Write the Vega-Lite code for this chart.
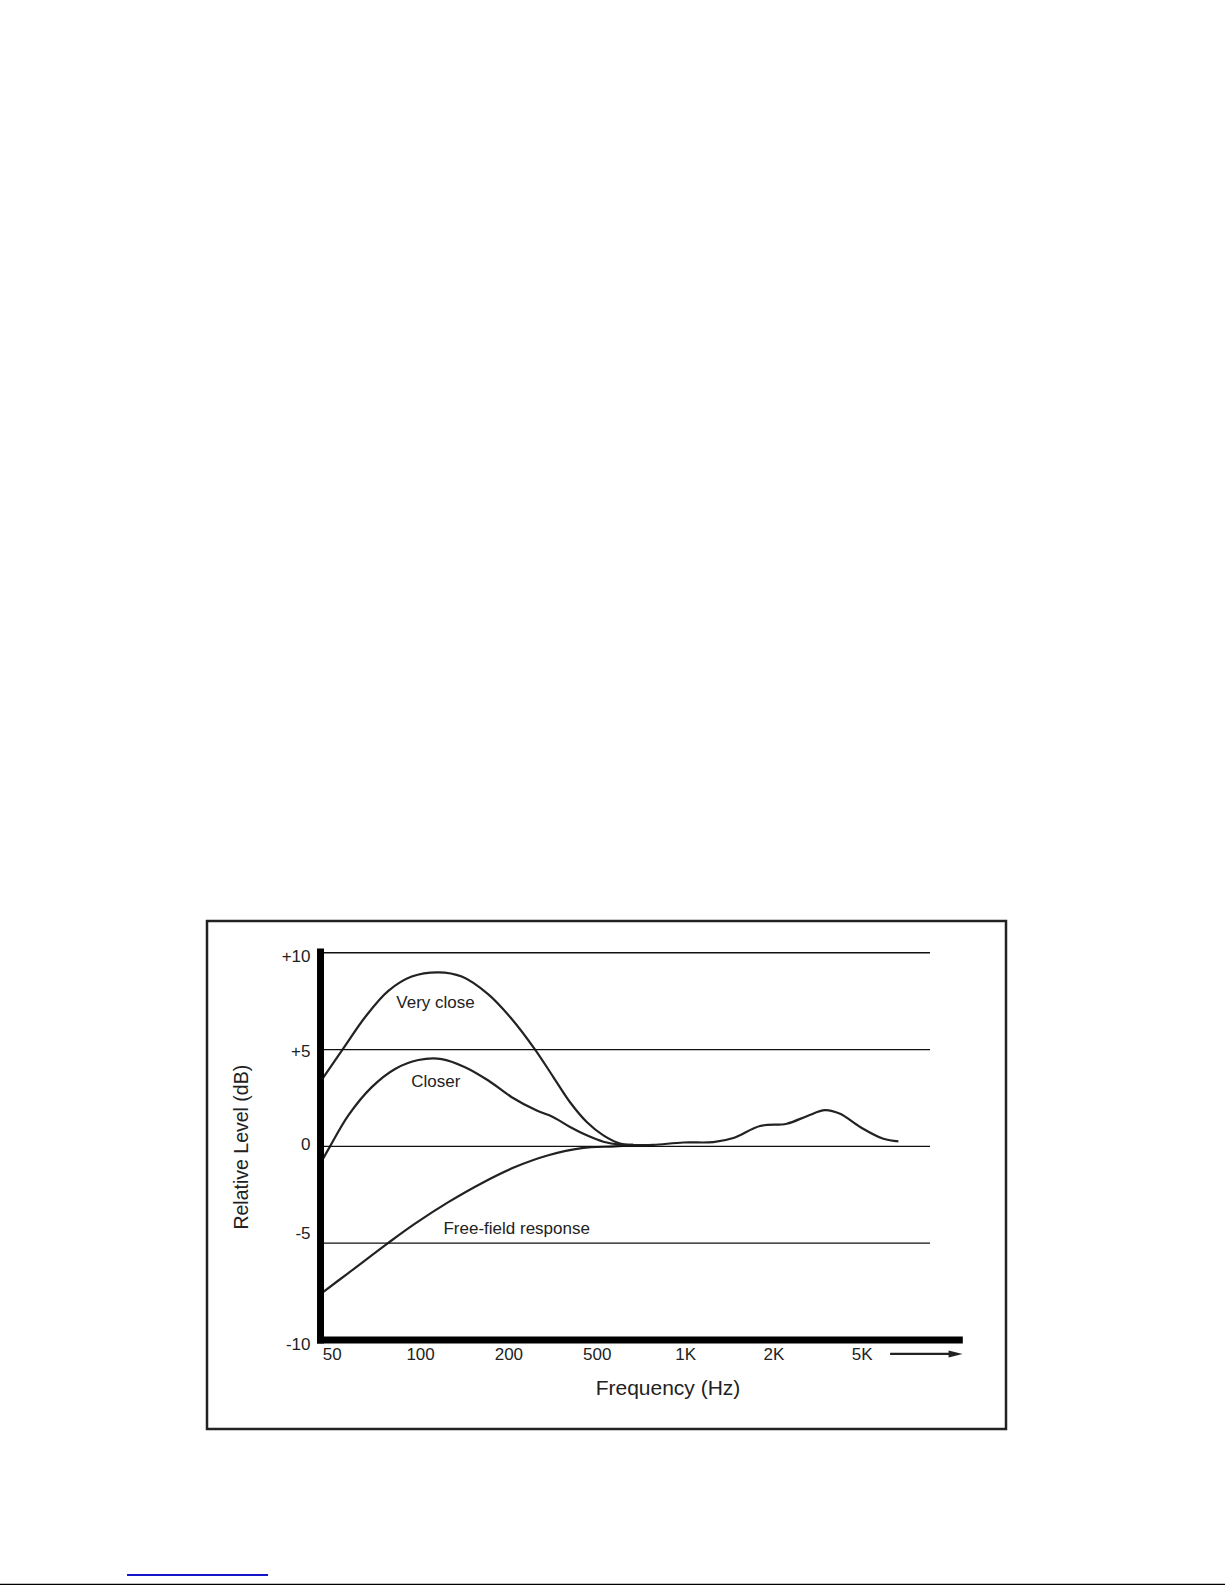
{
  "$schema": "https://vega.github.io/schema/vega-lite/v6.json",
  "width": 799,
  "height": 508,
  "autosize": {"type": "none"},
  "padding": {"left": 207, "top": 921, "right": 219, "bottom": 156},
  "background": "white",
  "config": {"view": {"stroke": "#222", "strokeWidth": 2.5}, "font": "Liberation Sans"},
  "datasets": {
    "curves": [
      {"series": "Very close", "x": -0.106, "db": 3.49},
      {"series": "Very close", "x": 0.151, "db": 5.19},
      {"series": "Very close", "x": 0.377, "db": 6.67},
      {"series": "Very close", "x": 0.641, "db": 8.03},
      {"series": "Very close", "x": 0.906, "db": 8.77},
      {"series": "Very close", "x": 1.207, "db": 8.99},
      {"series": "Very close", "x": 1.472, "db": 8.77},
      {"series": "Very close", "x": 1.773, "db": 7.85},
      {"series": "Very close", "x": 2.038, "db": 6.58},
      {"series": "Very close", "x": 2.302, "db": 5.0},
      {"series": "Very close", "x": 2.509, "db": 3.58},
      {"series": "Very close", "x": 2.698, "db": 2.28},
      {"series": "Very close", "x": 2.887, "db": 1.26},
      {"series": "Very close", "x": 3.075, "db": 0.57},
      {"series": "Very close", "x": 3.264, "db": 0.15},
      {"series": "Very close", "x": 3.414, "db": 0.08},
      {"series": "Closer", "x": -0.106, "db": -0.7},
      {"series": "Closer", "x": -0.019, "db": 0.0},
      {"series": "Closer", "x": 0.188, "db": 1.6},
      {"series": "Closer", "x": 0.453, "db": 3.06},
      {"series": "Closer", "x": 0.717, "db": 4.0},
      {"series": "Closer", "x": 0.98, "db": 4.46},
      {"series": "Closer", "x": 1.245, "db": 4.51},
      {"series": "Closer", "x": 1.509, "db": 4.09},
      {"series": "Closer", "x": 1.773, "db": 3.4},
      {"series": "Closer", "x": 2.038, "db": 2.54},
      {"series": "Closer", "x": 2.321, "db": 1.85},
      {"series": "Closer", "x": 2.509, "db": 1.51},
      {"series": "Closer", "x": 2.698, "db": 1.0},
      {"series": "Closer", "x": 2.887, "db": 0.57},
      {"series": "Closer", "x": 3.075, "db": 0.24},
      {"series": "Closer", "x": 3.264, "db": 0.09},
      {"series": "Closer", "x": 3.414, "db": 0.08},
      {"series": "Free-field response", "x": -0.106, "db": -7.55},
      {"series": "Free-field response", "x": 0.188, "db": -6.54},
      {"series": "Free-field response", "x": 0.641, "db": -4.98},
      {"series": "Free-field response", "x": 0.943, "db": -3.99},
      {"series": "Free-field response", "x": 1.32, "db": -2.88},
      {"series": "Free-field response", "x": 1.698, "db": -1.9},
      {"series": "Free-field response", "x": 2.075, "db": -1.07},
      {"series": "Free-field response", "x": 2.452, "db": -0.46},
      {"series": "Free-field response", "x": 2.83, "db": -0.09},
      {"series": "Free-field response", "x": 3.207, "db": 0.0},
      {"series": "Free-field response", "x": 3.414, "db": 0.06},
      {"series": "Free-field response", "x": 3.641, "db": 0.08},
      {"series": "Free-field response", "x": 3.981, "db": 0.2},
      {"series": "Free-field response", "x": 4.32, "db": 0.22},
      {"series": "Free-field response", "x": 4.547, "db": 0.43},
      {"series": "Free-field response", "x": 4.849, "db": 1.05},
      {"series": "Free-field response", "x": 5.151, "db": 1.17},
      {"series": "Free-field response", "x": 5.378, "db": 1.56},
      {"series": "Free-field response", "x": 5.585, "db": 1.87},
      {"series": "Free-field response", "x": 5.755, "db": 1.68},
      {"series": "Free-field response", "x": 5.982, "db": 1.0},
      {"series": "Free-field response", "x": 6.245, "db": 0.39},
      {"series": "Free-field response", "x": 6.415, "db": 0.26}
    ],
    "labels": [
      {"label": "Very close", "x": 1.175, "db": 7.13},
      {"label": "Closer", "x": 1.179, "db": 3.09},
      {"label": "Free-field response", "x": 2.094, "db": -4.51}
    ],
    "grid": [
      {"db": 10},
      {"db": 5},
      {"db": 0},
      {"db": -5}
    ],
    "one": [{"item": 1}]
  },
  "layer": [
    {
      "data": {"name": "curves"},
      "mark": {"type": "line", "color": "#222", "strokeWidth": 2.2, "interpolate": "catmull-rom"},
      "encoding": {
        "x": {
          "field": "x",
          "type": "quantitative",
          "scale": {"domain": [-1.412, 7.633], "nice": false, "zero": false},
          "axis": {
            "orient": "bottom",
            "offset": -82.6,
            "values": [0, 1, 2, 3, 4, 5, 6],
            "labelExpr": "['50','100','200','500','1K','2K','5K'][datum.value]",
            "domain": false,
            "ticks": false,
            "tickSize": 0,
            "grid": false,
            "labelPadding": 0,
            "labelFlush": false,
            "labelOverlap": false,
            "labelBound": false,
            "labelFont": "Liberation Sans",
            "labelFontSize": 17,
            "labelColor": "#222",
            "labelAlign": "center",
            "labelBaseline": "top",
            "title": "Frequency (Hz)",
            "titleFont": "Liberation Sans",
            "titleFontSize": 21,
            "titleFontWeight": "normal",
            "titleColor": "#222",
            "titleX": 460.5,
            "titleY": 47.9,
            "titleAlign": "center",
            "titleBaseline": "alphabetic"
          }
        },
        "y": {
          "field": "db",
          "type": "quantitative",
          "scale": {"domain": [-14.595, 11.639], "nice": false, "zero": false},
          "axis": {
            "orient": "left",
            "offset": -103,
            "values": [10, 5, 0, -5, -10],
            "labelExpr": "datum.value > 0 ? '+' + datum.value : '' + datum.value",
            "domain": false,
            "ticks": false,
            "tickSize": 0,
            "grid": false,
            "labelPadding": 0,
            "labelFlush": false,
            "labelOverlap": false,
            "labelBound": false,
            "labelFont": "Liberation Sans",
            "labelFontSize": 17,
            "labelColor": "#222",
            "labelAlign": "right",
            "labelBaseline": "middle",
            "labelOffset": {"condition": [
              {"test": "datum.value == 10", "value": 4},
              {"test": "datum.value == 5", "value": 2},
              {"test": "datum.value == 0", "value": -1.5},
              {"test": "datum.value == -5", "value": -10},
              {"test": "datum.value == -10", "value": 4}
            ], "value": 0},
            "title": "Relative Level (dB)",
            "titleFont": "Liberation Sans",
            "titleFontSize": 19.5,
            "titleFontWeight": "normal",
            "titleColor": "#222",
            "titleAngle": 270,
            "titleX": -62.7,
            "titleY": 225.7,
            "titleAlign": "center",
            "titleBaseline": "alphabetic"
          }
        },
        "detail": {"field": "series"}
      }
    },
    {
      "data": {"name": "grid"},
      "mark": {"type": "rule", "color": "#111", "strokeWidth": 1.3},
      "encoding": {
        "y": {"field": "db", "type": "quantitative"},
        "x": {"datum": -0.093, "type": "quantitative"},
        "x2": {"datum": 6.773}
      }
    },
    {
      "data": {"name": "labels"},
      "mark": {"type": "text", "font": "Liberation Sans", "fontSize": 17, "color": "#222", "align": "center", "baseline": "alphabetic"},
      "encoding": {
        "x": {"field": "x", "type": "quantitative"},
        "y": {"field": "db", "type": "quantitative"},
        "text": {"field": "label"}
      }
    },
    {
      "data": {"name": "one"},
      "mark": {"type": "rule", "color": "#000", "strokeWidth": 7},
      "encoding": {
        "x": {"datum": -0.127, "type": "quantitative"},
        "y": {"datum": -10.18, "type": "quantitative"},
        "y2": {"datum": 10.22}
      }
    },
    {
      "data": {"name": "one"},
      "mark": {"type": "rule", "color": "#000", "strokeWidth": 7},
      "encoding": {
        "y": {"datum": -10, "type": "quantitative"},
        "x": {"datum": -0.166, "type": "quantitative"},
        "x2": {"datum": 7.144}
      }
    },
    {
      "data": {"name": "one"},
      "mark": {"type": "rule", "color": "#222", "strokeWidth": 2.2},
      "encoding": {
        "y": {"datum": -10.72, "type": "quantitative"},
        "x": {"datum": 6.321, "type": "quantitative"},
        "x2": {"datum": 7.0}
      }
    },
    {
      "data": {"name": "one"},
      "mark": {"type": "point", "shape": "M -1 -0.5 L 1 0 L -1 0.5 Z", "filled": true, "size": 196, "color": "#222", "opacity": 1, "strokeWidth": 0},
      "encoding": {
        "y": {"datum": -10.72, "type": "quantitative"},
        "x": {"datum": 7.062, "type": "quantitative"}
      }
    },
    {
      "data": {"name": "one"},
      "mark": {"type": "rule", "color": "#1414c8", "strokeWidth": 2},
      "encoding": {
        "y": {"datum": -22.135, "type": "quantitative"},
        "x": {"datum": -2.317, "type": "quantitative"},
        "x2": {"datum": -0.721}
      }
    },
    {
      "data": {"name": "one"},
      "mark": {"type": "rule", "color": "#000", "strokeWidth": 1.5},
      "encoding": {
        "y": {"datum": -22.62, "type": "quantitative"},
        "x": {"datum": -3.76, "type": "quantitative"},
        "x2": {"datum": 10.12}
      }
    }
  ]
}
